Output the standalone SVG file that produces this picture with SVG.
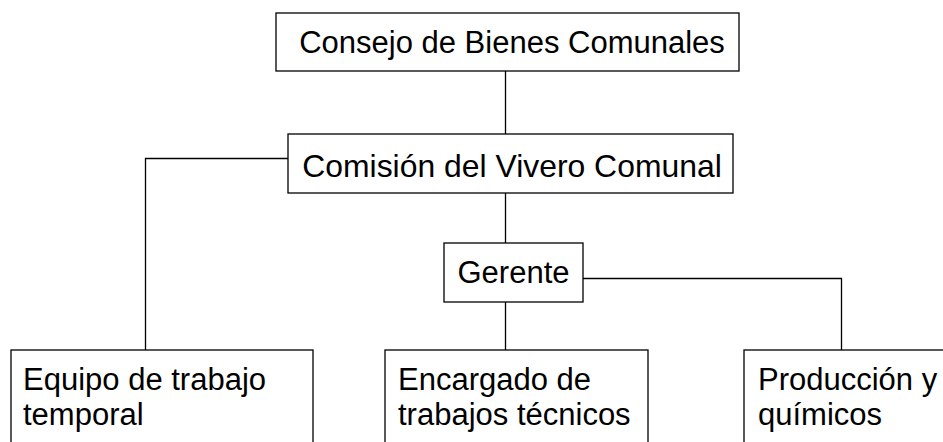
<svg xmlns="http://www.w3.org/2000/svg" width="943" height="442" viewBox="0 0 943 442">
<style>
.box{fill:#fff;stroke:#000;stroke-width:1.3}
.t{font-family:"Liberation Sans",Arial,sans-serif;font-size:31px;fill:#000}
.c{text-anchor:middle}
.ln{fill:none;stroke:#000;stroke-width:1.3}
</style>
<rect width="943" height="442" fill="#fff"/>
<g id="connectors">
<line class="ln" x1="505.5" y1="71" x2="505.5" y2="134"/>
<line class="ln" x1="505.5" y1="193" x2="505.5" y2="243"/>
<line class="ln" x1="505.5" y1="302" x2="505.5" y2="350"/>
<polyline class="ln" points="288,158.5 145.5,158.5 145.5,350"/>
<polyline class="ln" points="583,278.5 841.5,278.5 841.5,350"/>
</g>
<g id="consejo">
<rect class="box" x="276" y="13" width="463" height="58"/>
<text class="t c" x="512" y="53">Consejo de Bienes Comunales</text>
</g>
<g id="comision">
<rect class="box" x="288" y="134" width="445" height="59"/>
<text class="t c" x="512" y="177" style="font-size:31.9px">Comisión del Vivero Comunal</text>
</g>
<g id="gerente">
<rect class="box" x="444" y="243" width="139" height="59"/>
<text class="t c" x="513.5" y="283">Gerente</text>
</g>
<g id="equipo">
<rect class="box" x="11" y="350" width="302" height="100"/>
<text class="t" x="23" y="390">Equipo de trabajo</text>
<text class="t" x="23" y="425">temporal</text>
</g>
<g id="encargado">
<rect class="box" x="385" y="350" width="263" height="100"/>
<text class="t" x="398" y="390">Encargado de</text>
<text class="t" x="398" y="425">trabajos técnicos</text>
</g>
<g id="produccion">
<rect class="box" x="744" y="350" width="220" height="100"/>
<text class="t" x="758" y="390">Producción y</text>
<text class="t" x="758" y="425">químicos</text>
</g>
</svg>
